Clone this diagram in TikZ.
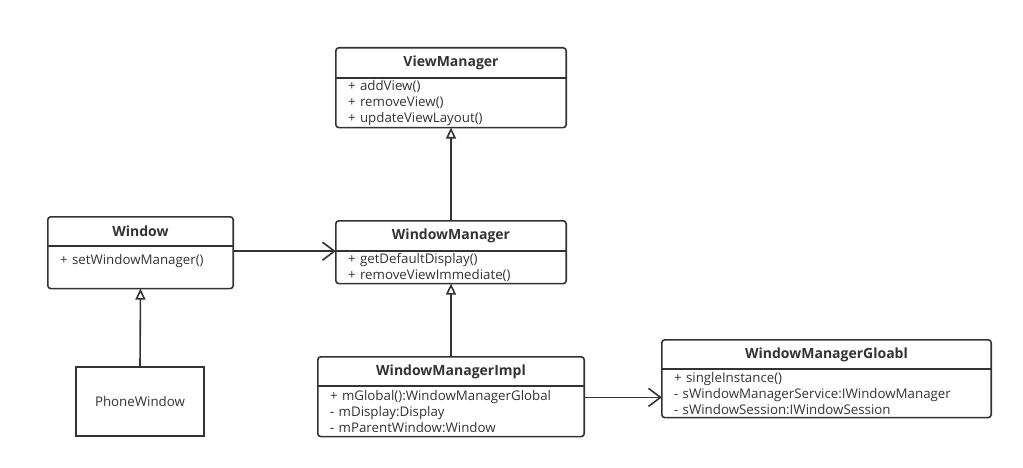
\documentclass[tikz,border=0pt]{standalone}
\usepackage{fontspec}
\setmainfont{Open Sans}
\usetikzlibrary{arrows.meta}
\definecolor{umlline}{HTML}{333333}
\tikzset{
  head/.style = {font=\bfseries\fontsize{14}{16}\selectfont, text=umlline, inner sep=0pt},
  body/.style = {font=\fontsize{13.3}{16}\selectfont, text=umlline, anchor=north, align=left,
                 inner xsep=12pt, inner ysep=1pt},
  frame/.style = {draw=umlline, line width=1.6pt, rounded corners=3pt},
  inherit/.style = {draw=umlline, line width=1.6pt, -{Triangle[open, length=11pt, width=10pt]}},
  assoc/.style = {draw=umlline, line width=1.6pt, -{Straight Barb[length=12pt, width=18pt]}}
}
\begin{document}
\begin{tikzpicture}[x = 1pt, y = -1pt]
  \useasboundingbox (0, 0) rectangle (1023, 468);
  % ViewManager
  \node[head, minimum width = 230, minimum height = 30] (vm) at (451, 63) {ViewManager};
  \node[body, text width = 206, minimum height = 49] (vmb) at (vm.south)
    {+ addView()\\+ removeView()\\+ updateViewLayout()};
  % Window
  \node[head, minimum width = 185, minimum height = 29] (win) at (140.5, 231.5) {Window};
  \node[body, text width = 161, minimum height = 42] (winb) at (win.south)
    {+ setWindowManager()\\ \mbox{}};
  % WindowManager
  \node[head, minimum width = 230, minimum height = 30] (wm) at (451, 236) {WindowManager};
  \node[body, text width = 206, minimum height = 32] (wmb) at (wm.south)
    {+ getDefaultDisplay()\\+ removeViewImmediate()};
  % PhoneWindow
  \node[font = \fontsize{13.3}{16}\selectfont, text = umlline, draw = umlline, line width = 1.6pt,
        minimum width = 128, minimum height = 69] (phone) at (140, 401.5) {PhoneWindow};
  % WindowManagerImpl
  \node[head, minimum width = 266, minimum height = 29] (impl) at (451, 371.5) {WindowManagerImpl};
  \node[body, text width = 242, minimum height = 50] (implb) at (impl.south)
    {+ mGlobal():WindowManagerGlobal\\- mDisplay:Display\\- mParentWindow:Window};
  % WindowManagerGloabl
  \node[head, minimum width = 329, minimum height = 29] (glob) at (826.5, 354.5) {WindowManagerGloabl};
  \node[body, text width = 305, minimum height = 48] (globb) at (glob.south)
    {+ singleInstance()\\- sWindowManagerService:IWindowManager\\- sWindowSession:IWindowSession};
  % frames and dividers
  \foreach \h/\b in {vm/vmb, win/winb, wm/wmb, impl/implb, glob/globb} {
    \draw[frame] (\h.north west) rectangle (\b.south east);
    \draw[draw = umlline, line width = 1.6pt] (\h.south west) -- (\h.south east);
  }
  % connectors
  \draw[inherit] (wm.north) -- (vmb.south);
  \draw[inherit] (phone.north) -- (winb.south);
  \draw[inherit] (impl.north) -- (wmb.south);
  \draw[assoc] (wm.south west -| win.east) -- (wm.south west);
  \draw[assoc] ([yshift = -4pt]globb.west -| implb.east) -- ([yshift = -4pt]globb.west);
\end{tikzpicture}
\end{document}
